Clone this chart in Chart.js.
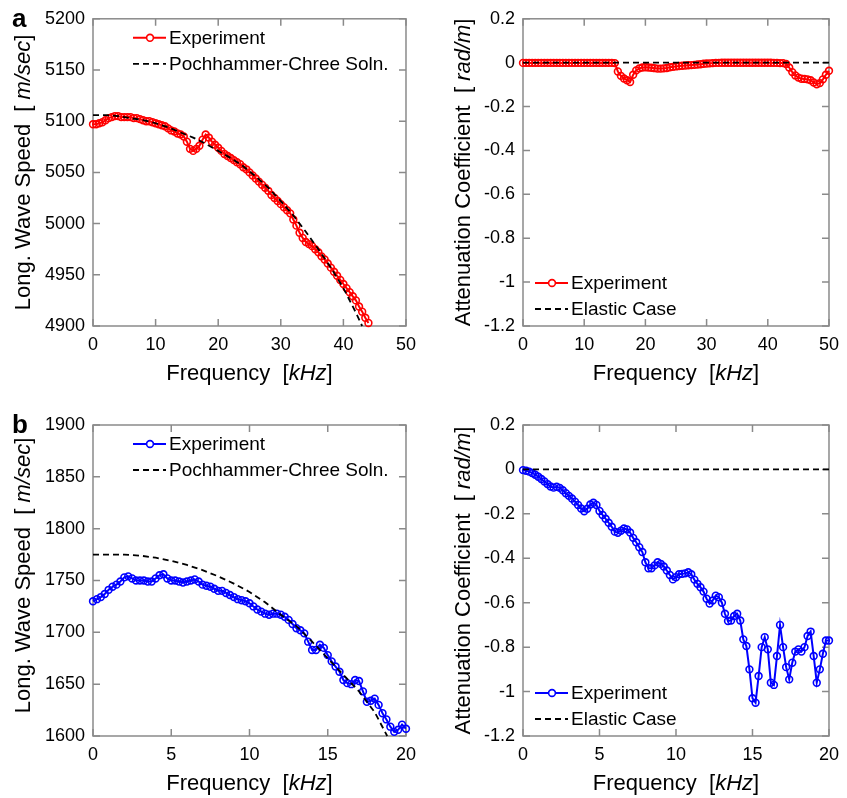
<!DOCTYPE html>
<html>
<head>
<meta charset="utf-8">
<script src="https://cdn.jsdelivr.net/npm/chart.js@4.4.0/dist/chart.umd.min.js"></script>
<style>
  body { margin: 0; background: #fff; }
  #wrap { position: relative; width: 847px; height: 798px; }
  .panel { position: absolute; }
</style>
</head>
<body>
<div id="wrap">
  <div class="panel" style="left:0;top:0"><canvas id="c1" width="424" height="399"></canvas></div>
  <div class="panel" style="left:424px;top:0"><canvas id="c2" width="423" height="399"></canvas></div>
  <div class="panel" style="left:0;top:399px"><canvas id="c3" width="424" height="399"></canvas></div>
  <div class="panel" style="left:424px;top:399px"><canvas id="c4" width="423" height="399"></canvas></div>
</div>
<script>
// ---- panel a (0 - 50 kHz) ----
const freqA = [0,0.5,1,1.5,2,2.5,3,3.5,4,4.5,5,5.5,6,6.5,7,7.5,8,8.5,9,9.5,
  10,10.5,11,11.5,12,12.5,13,13.5,14,14.5,15,15.5,16,16.5,17,17.5,18,18.5,19,19.5,
  20,20.5,21,21.5,22,22.5,23,23.5,24,24.5,25,25.5,26,26.5,27,27.5,28,28.5,29,29.5,
  30,30.5,31,31.5,32,32.5,33,33.5,34,34.5,35,35.5,36,36.5,37,37.5,38,38.5,39,39.5,
  40,40.5,41,41.5,42,42.5,43,43.5,44,44.5,45,45.5,46,46.5,47,47.5,48,48.5,49,49.5,50];

// measured speed, 0 - 44 kHz (first 89 entries of freqA)
const speedExpA = [5097,5097,5098,5099,5101,5103,5104,5105,5105,5104,
  5104,5104,5104,5103,5103,5102,5101,5100,5100,5099,
  5098,5097,5096,5095,5093,5091,5090,5088,5087,5085,
  5080,5073,5071,5073,5076,5082,5087,5084,5080,5077,
  5074,5071,5068,5066,5064,5062,5060,5058,5055,5053,
  5050,5047,5044,5041,5038,5035,5032,5028,5025,5022,
  5019,5016,5013,5010,5004,4998,4991,4986,4982,4980,
  4978,4975,4972,4968,4965,4961,4957,4953,4949,4945,
  4941,4937,4933,4929,4925,4919,4914,4908,4903];

const freqTheoryA = [0,2,4,6,8,10,12,14,16,18,20,22,24,26,28,30,32,34,36,38,40,42,43];
const speedTheoryA = [5106,5106,5105,5103,5101,5098,5094,5089,5084,5078,5071,5064,5056,5046,5035,5022,5008,4992,4975,4957,4937,4913,4900];

const attExpA = [-0.001,-0.001,-0.001,-0.001,-0.001,-0.001,-0.001,-0.001,-0.001,-0.001,
  -0.001,-0.001,-0.001,-0.001,-0.001,-0.001,-0.001,-0.001,-0.001,-0.001,
  -0.001,-0.001,-0.001,-0.001,-0.001,-0.001,-0.001,-0.001,-0.001,-0.001,
  -0.002,-0.040,-0.060,-0.072,-0.080,-0.088,-0.055,-0.035,-0.026,-0.022,
  -0.021,-0.022,-0.023,-0.025,-0.027,-0.027,-0.026,-0.024,-0.021,-0.019,
  -0.017,-0.015,-0.014,-0.013,-0.012,-0.011,-0.010,-0.008,-0.007,-0.005,
  -0.004,-0.003,-0.002,-0.001,-0.001,0,0,0,0,0,
  0,0,0,0,0,0,0,0,0,0,
  0,0,-0.001,-0.001,-0.002,-0.002,-0.006,-0.022,-0.043,-0.058,
  -0.068,-0.073,-0.074,-0.076,-0.080,-0.090,-0.098,-0.093,-0.076,-0.055,
  -0.037];
const elasticFreqA = [0, 50];
const elasticA = [0, 0];

// ---- panel b (0 - 20 kHz) ----
const freqSpeedB = [0,0.25,0.5,0.75,1,1.25,1.5,1.75,2,2.25,2.5,2.75,3,3.25,3.5,3.75,4,4.25,4.5,4.75,
  5,5.25,5.5,5.75,6,6.25,6.5,6.75,7,7.25,7.5,7.75,8,8.25,8.5,8.75,9,9.25,9.5,9.75,
  10,10.25,10.5,10.75,11,11.25,11.5,11.75,12,12.25,12.5,12.75,13,13.25,13.5,13.75,14,14.25,14.5,14.75,
  15,15.25,15.5,15.75,16,16.25,16.5,16.75,17,17.25,17.5,17.75,18,18.25,18.5,18.75,19,19.25,19.5,19.75,20];
const speedExpB = [1730,1732,1734,1737,1741,1744,1746,1749,1753,1754,
  1752,1750,1750,1750,1749,1749,1752,1755,1756,1752,
  1750,1750,1749,1748,1749,1750,1751,1749,1746,1745,
  1744,1742,1740,1740,1738,1736,1734,1732,1731,1730,
  1728,1725,1722,1720,1718,1717,1718,1718,1717,1715,
  1712,1708,1704,1702,1699,1691,1683,1683,1688,1685,
  1678,1672,1667,1662,1654,1651,1650,1654,1653,1643,
  1633,1634,1636,1630,1622,1616,1609,1604,1606,1611,
  1607];

const freqTheoryB = [0,1,2,3,4,5,6,7,8,9,10,11,12,13,14,15,16,17,18,18.8];
const speedTheoryB = [1775,1775,1775,1774,1772,1769,1765,1760,1754,1747,1739,1729,1717,1706,1691,1675,1659,1643,1623,1600];

const freqAttB = [0,0.2,0.4,0.6,0.8,1,1.2,1.4,1.6,1.8,2,2.2,2.4,2.6,2.8,3,3.2,3.4,3.6,3.8,
  4,4.2,4.4,4.6,4.8,5,5.2,5.4,5.6,5.8,6,6.2,6.4,6.6,6.8,7,7.2,7.4,7.6,7.8,
  8,8.2,8.4,8.6,8.8,9,9.2,9.4,9.6,9.8,10,10.2,10.4,10.6,10.8,11,11.2,11.4,11.6,11.8,
  12,12.2,12.4,12.6,12.8,13,13.2,13.4,13.6,13.8,14,14.2,14.4,14.6,14.8,15,15.2,15.4,15.6,15.8,
  16,16.2,16.4,16.6,16.8,17,17.2,17.4,17.6,17.8,18,18.2,18.4,18.6,18.8,19,19.2,19.4,19.6,19.8,20];
const attExpB = [-0.003,-0.006,-0.010,-0.016,-0.024,-0.033,-0.043,-0.054,-0.066,-0.077,
  -0.082,-0.078,-0.083,-0.094,-0.107,-0.119,-0.131,-0.145,-0.160,-0.176,
  -0.188,-0.177,-0.158,-0.150,-0.160,-0.187,-0.205,-0.222,-0.240,-0.258,
  -0.280,-0.285,-0.276,-0.266,-0.270,-0.284,-0.308,-0.328,-0.350,-0.372,
  -0.418,-0.445,-0.445,-0.432,-0.418,-0.425,-0.437,-0.455,-0.475,-0.495,
  -0.485,-0.472,-0.470,-0.468,-0.463,-0.472,-0.496,-0.515,-0.530,-0.550,
  -0.582,-0.604,-0.590,-0.568,-0.575,-0.600,-0.650,-0.682,-0.680,-0.660,
  -0.650,-0.680,-0.765,-0.795,-0.900,-1.030,-1.050,-0.930,-0.800,-0.755,
  -0.810,-0.960,-0.970,-0.840,-0.700,-0.800,-0.890,-0.945,-0.870,-0.820,
  -0.810,-0.820,-0.800,-0.750,-0.730,-0.840,-0.960,-0.900,-0.830,-0.770,
  -0.770];
const elasticFreqB = [0, 20];
const elasticB = [0, 0];

// tick labels
const freqTicksA = [0, 10, 20, 30, 40, 50];
const freqTicksB = [0, 5, 10, 15, 20];
const speedTicksA = [4900, 4950, 5000, 5050, 5100, 5150, 5200];
const speedTicksB = [1600, 1650, 1700, 1750, 1800, 1850, 1900];
const attTicks = [-1.2, -1, -0.8, -0.6, -0.4, -0.2, 0, 0.2];

const FONT = 'Liberation Sans, Arial, Helvetica, sans-serif';
Chart.defaults.font.family = FONT;
Chart.defaults.color = '#000';

function pts(xs, ys) {
  return ys.map((v, i) => ({ x: xs[i], y: v }));
}

// draws mixed normal / italic text, centred at 0,0 on the current transform
function drawSegments(ctx, segs, size) {
  const fonts = segs.map(s => (s[1] ? 'italic ' : '') + size + 'px ' + FONT);
  let total = 0;
  const w = segs.map((s, i) => { ctx.font = fonts[i]; const m = ctx.measureText(s[0]).width; total += m; return m; });
  let x = -total / 2;
  ctx.textBaseline = 'alphabetic';
  ctx.textAlign = 'left';
  segs.forEach((s, i) => { ctx.font = fonts[i]; ctx.fillText(s[0], x, 0); x += w[i]; });
}

// MATLAB-like box: frame, inward ticks on all sides, axis titles, legend in the box
const boxPlugin = {
  id: 'box',
  beforeDatasetsDraw(chart, args, opts) {
    const { ctx, chartArea: a, scales: { x, y } } = chart;
    ctx.save();
    ctx.strokeStyle = '#8a8a8a';
    ctx.lineWidth = 1.5;
    ctx.strokeRect(a.left, a.top, a.right - a.left, a.bottom - a.top);
    ctx.beginPath();
    const tl = 7;
    x.ticks.forEach(t => {
      const px = x.getPixelForValue(t.value);
      ctx.moveTo(px, a.bottom); ctx.lineTo(px, a.bottom - tl);
      ctx.moveTo(px, a.top); ctx.lineTo(px, a.top + tl);
    });
    y.ticks.forEach(t => {
      const py = y.getPixelForValue(t.value);
      ctx.moveTo(a.left, py); ctx.lineTo(a.left + tl, py);
      ctx.moveTo(a.right, py); ctx.lineTo(a.right - tl, py);
    });
    ctx.stroke();
    ctx.restore();
  },
  afterDraw(chart, args, opts) {
    const { ctx, chartArea: a } = chart;
    ctx.save();
    ctx.fillStyle = '#000';
    // x title
    ctx.save();
    ctx.translate((a.left + a.right) / 2, a.bottom + 54);
    drawSegments(ctx, opts.xTitle, 22);
    ctx.restore();
    // y title (baseline sits to the right of the centre line)
    ctx.save();
    ctx.translate(opts.yTitleX + 8, (a.top + a.bottom) / 2 + opts.yTitleDy);
    ctx.rotate(-Math.PI / 2);
    drawSegments(ctx, opts.yTitle, 22);
    ctx.restore();
    // legend
    const ds = chart.data.datasets;
    const y0 = opts.legendTop ? a.top + 19 : a.bottom - 43;
    const x0 = a.left + opts.legendDx;
    ds.forEach((d, i) => {
      const yy = y0 + i * 26;
      ctx.save();
      ctx.strokeStyle = d.borderColor;
      ctx.lineWidth = d.borderWidth;
      ctx.setLineDash(d.borderDash || []);
      ctx.beginPath(); ctx.moveTo(x0, yy); ctx.lineTo(x0 + 33, yy); ctx.stroke();
      ctx.setLineDash([]);
      if (d.pointRadius) {
        ctx.lineWidth = d.pointBorderWidth;
        ctx.fillStyle = '#fff';
        ctx.beginPath(); ctx.arc(x0 + 17, yy, d.pointRadius, 0, Math.PI * 2); ctx.fill(); ctx.stroke();
      }
      ctx.restore();
      ctx.font = '19px ' + FONT;
      ctx.textAlign = 'left';
      ctx.textBaseline = 'middle';
      ctx.fillText(d.label, x0 + 36, yy + 1);
    });
    // panel letter
    if (opts.letter) {
      ctx.font = 'bold 26px ' + FONT;
      ctx.textAlign = 'left';
      ctx.textBaseline = 'alphabetic';
      ctx.fillText(opts.letter, 12, a.top + 8);
    }
    ctx.restore();
  }
};

function fixTicks(arr) {
  return scale => { scale.ticks = arr.map(v => ({ value: v })); };
}

function makeChart(id, cfg) {
  const canvas = document.getElementById(id);
  return new Chart(canvas, {
    type: 'line',
    data: { datasets: cfg.datasets },
    plugins: [boxPlugin],
    options: {
      responsive: false,
      animation: false,
      events: [],
      layout: { padding: { top: cfg.top, right: canvas.width - cfg.right, left: 0, bottom: 0 } },
      plugins: {
        legend: { display: false },
        tooltip: { enabled: false },
        box: { xTitle: cfg.xTitle, yTitle: cfg.yTitle, yTitleX: cfg.yTitleX, yTitleDy: cfg.yTitleDy || 0,
               legendTop: cfg.legendTop, legendDx: cfg.legendDx, letter: cfg.letter }
      },
      scales: {
        x: {
          type: 'linear', min: cfg.xTicks[0], max: cfg.xTicks[cfg.xTicks.length - 1],
          afterBuildTicks: fixTicks(cfg.xTicks),
          afterFit: s => { s.height = canvas.height - cfg.bottom; },
          grid: { display: false, drawTicks: false },
          border: { display: false },
          ticks: { autoSkip: false, maxRotation: 0, padding: 8, font: { size: 18 },
                   callback: v => String(+(+v).toFixed(1)) }
        },
        y: {
          type: 'linear', min: cfg.yTicks[0], max: cfg.yTicks[cfg.yTicks.length - 1],
          afterBuildTicks: fixTicks(cfg.yTicks),
          afterFit: s => { s.width = cfg.left; },
          grid: { display: false, drawTicks: false },
          border: { display: false },
          ticks: { autoSkip: false, padding: 8, font: { size: 18 },
                   callback: v => String(+(+v).toFixed(1)) }
        }
      }
    }
  });
}

function expSet(xs, ys, color) {
  return {
    label: 'Experiment', data: pts(xs, ys), order: 1,
    borderColor: color, borderWidth: 2, backgroundColor: 'rgba(0,0,0,0)',
    pointRadius: 3.4, pointBorderWidth: 1.6, pointBackgroundColor: 'rgba(0,0,0,0)',
    pointBorderColor: color, tension: 0, clip: false
  };
}
function dashSet(label, xs, ys) {
  return {
    label: label, data: pts(xs, ys), order: 0,
    borderColor: '#000', borderWidth: 1.8, borderDash: [6, 4],
    pointRadius: 0, tension: 0, clip: false
  };
}

const speedTitle = [['Long. Wave Speed  [ ', false], ['m/sec', true], [']', false]];
const attTitle = [['Attenuation Coefficient  [ ', false], ['rad/m', true], [']', false]];
const freqTitle = [['Frequency  [', false], ['kHz', true], [']', false]];

makeChart('c1', {
  left: 93, top: 14, right: 406, bottom: 326, yTitleX: 22, letter: 'a',
  legendTop: true, legendDx: 40,
  xTicks: freqTicksA, yTicks: speedTicksA, xTitle: freqTitle, yTitle: speedTitle,
  datasets: [expSet(freqA, speedExpA, '#ff0000'),
             dashSet('Pochhammer-Chree Soln.', freqTheoryA, speedTheoryA)]
});
makeChart('c2', {
  left: 99, top: 14, right: 412, bottom: 326, yTitleX: 38,
  legendTop: false, legendDx: 12,
  xTicks: freqTicksA, yTicks: attTicks, xTitle: freqTitle, yTitle: attTitle,
  datasets: [expSet(freqA, attExpA, '#ff0000'),
             dashSet('Elastic Case', elasticFreqA, elasticA)]
});
makeChart('c3', {
  left: 93, top: 26, right: 406, bottom: 337, yTitleX: 22, yTitleDy: -5, letter: 'b',
  legendTop: true, legendDx: 40,
  xTicks: freqTicksB, yTicks: speedTicksB, xTitle: freqTitle, yTitle: speedTitle,
  datasets: [expSet(freqSpeedB, speedExpB, '#0000ff'),
             dashSet('Pochhammer-Chree Soln.', freqTheoryB, speedTheoryB)]
});
makeChart('c4', {
  left: 99, top: 26, right: 412, bottom: 337, yTitleX: 38,
  legendTop: false, legendDx: 12,
  xTicks: freqTicksB, yTicks: attTicks, xTitle: freqTitle, yTitle: attTitle,
  datasets: [expSet(freqAttB, attExpB, '#0000ff'),
             dashSet('Elastic Case', elasticFreqB, elasticB)]
});
</script>
</body>
</html>
